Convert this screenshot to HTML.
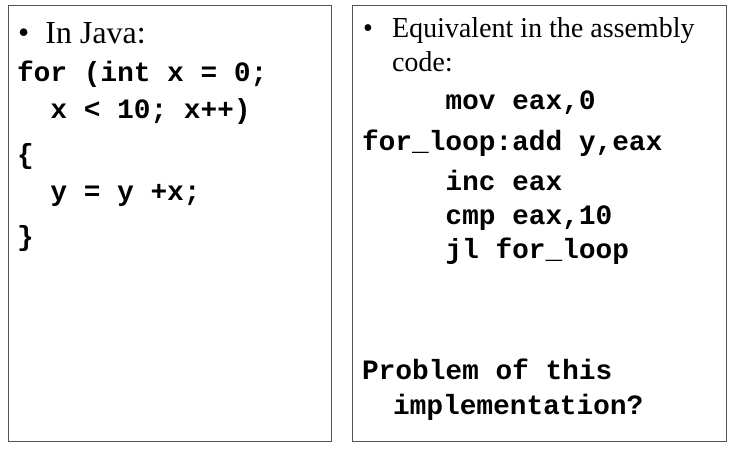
<!DOCTYPE html>
<html><head><style>
body{margin:0;width:730px;height:449px;background:#fff;position:relative;overflow:hidden}
.box{position:absolute;border:1px solid #555;box-sizing:border-box}
.t{position:absolute;white-space:pre;line-height:30px;height:30px;color:#000}
.s{font-family:"Liberation Serif",serif;font-size:28px}
.m{font-family:"Liberation Mono",monospace;font-size:27.8px;font-weight:bold}
</style></head><body>
<div class="box" style="left:8px;top:5px;width:324px;height:437px"></div>
<div class="box" style="left:352px;top:5px;width:375px;height:437px"></div>

<div class="t s" style="left:18px;top:17px;font-size:32px">•  In Java:</div>
<div class="t m" style="left:17px;top:60px">for (int x = 0;</div>
<div class="t m" style="left:17px;top:97px">  x &lt; 10; x++)</div>
<div class="t m" style="left:17px;top:142px">{</div>
<div class="t m" style="left:17px;top:179px">  y = y +x;</div>
<div class="t m" style="left:17px;top:224px">}</div>

<div class="t s" style="left:363px;top:14px">•</div>
<div class="t s" style="left:392px;top:14px">Equivalent in the assembly</div>
<div class="t s" style="left:392px;top:48px">code:</div>
<div class="t m" style="left:362px;top:88px">     mov eax,0</div>
<div class="t m" style="left:362px;top:129px">for_loop:add y,eax</div>
<div class="t m" style="left:362px;top:169px">     inc eax</div>
<div class="t m" style="left:362px;top:203px">     cmp eax,10</div>
<div class="t m" style="left:362px;top:237px">     jl for_loop</div>
<div class="t m" style="left:362px;top:358px">Problem of this</div>
<div class="t m" style="left:393px;top:393px">implementation?</div>
</body></html>
